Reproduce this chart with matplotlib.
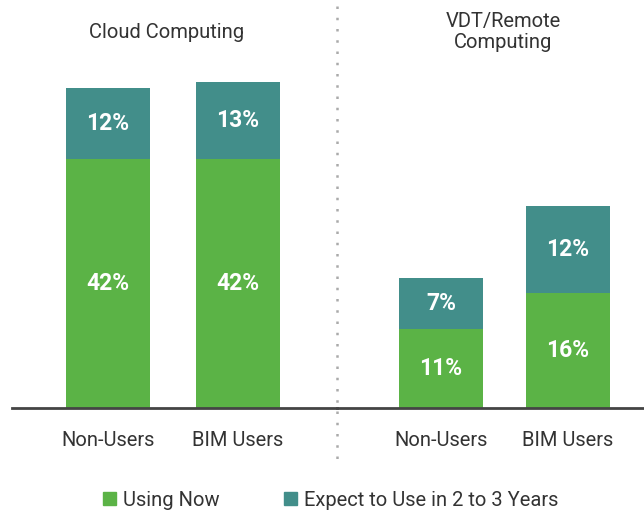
import numpy as np
import matplotlib.pyplot as plt
from matplotlib.lines import Line2D

plt.rcParams['font.family'] = ['Roboto', 'DejaVu Sans']

# данные
groups = ['Cloud Computing', 'VDT/Remote\nComputing']
categories = ['Non-Users', 'BIM Users']
using_now = [[42, 42], [11, 16]]
expect_use = [[12, 13], [7, 12]]
legend_labels = ['Using Now', 'Expect to Use in 2 to 3 Years']

green = '#5bb346'
teal = '#428e8a'

W, H = 644, 516
fig = plt.figure(figsize=(W / 100, H / 100), dpi=100)

base_y = 408
# (left px, width px, bar center offsets px, px per percent)
layout = [(12, 325, (96, 226), 5.92), (337, 307, (104, 230.5), 7.2)]

for g, (x0, w, centers, scale) in enumerate(layout):
    ax = fig.add_axes([x0 / W, (H - base_y) / H, w / W, base_y / H])
    step = centers[1] - centers[0]
    xs = np.arange(len(categories))
    bw = 84 / step
    ax.bar(xs, using_now[g], width=bw, color=green)
    ax.bar(xs, expect_use[g], width=bw, bottom=using_now[g], color=teal)
    for i in xs:
        ax.text(i, using_now[g][i] / 2, f'{using_now[g][i]}%', ha='center', va='center',
                color='white', fontsize=16.5, fontweight='bold')
        ax.text(i, using_now[g][i] + expect_use[g][i] / 2, f'{expect_use[g][i]}%',
                ha='center', va='center', color='white', fontsize=16.5, fontweight='bold')
        ax.text(i, -33 / scale, categories[i], ha='center', va='center',
                color='#333333', fontsize=14.5)
    ax.set_xlim(-centers[0] / step, (w - centers[0]) / step)
    ax.set_ylim(0, base_y / scale)
    ax.axhline(0, color='#444444', lw=2, clip_on=False)
    ax.axis('off')

fig.text(167 / W, 1 - 33 / H, groups[0], ha='center', va='center', fontsize=14.5, color='#333333')
fig.text(503 / W, 1 - 32 / H, groups[1], ha='center', va='center', fontsize=14.5,
         color='#333333', linespacing=1.2)

# разделитель
fig.add_artist(Line2D([337 / W, 337 / W], [1 - 6 / H, 1 - 460 / H], color='#aaaaaa',
                      lw=1.8, ls=(0, (1, 3.5))))

handles = [plt.Rectangle((0, 0), 1, 1, color=c) for c in (green, teal)]
fig.legend(handles, legend_labels, loc='center', bbox_to_anchor=(331 / W, 1 - 500 / H),
           ncol=2, frameon=False, fontsize=14.5, handlelength=0.65, handleheight=0.65,
           handletextpad=0.35, columnspacing=3.2, labelcolor='#333333')

fig.savefig('out.png', dpi=100)
